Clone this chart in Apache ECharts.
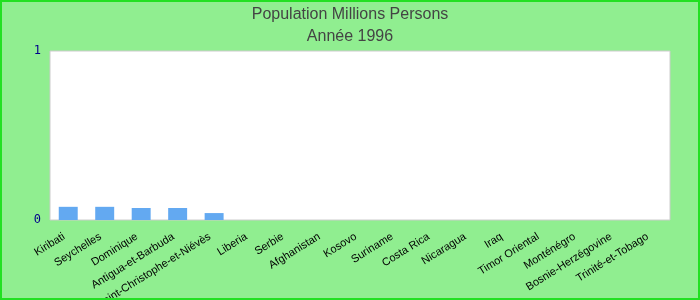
<!DOCTYPE html>
<html><head><meta charset="utf-8">
<script src="https://cdn.jsdelivr.net/npm/echarts@6/dist/echarts.min.js"></script>
<style>html,body{margin:0;padding:0;}#w{position:relative;width:700px;height:300px;}#c{width:700px;height:300px;}#b{position:absolute;left:0;top:0;width:700px;height:300px;box-sizing:border-box;border:2px solid #22e022;pointer-events:none;}</style>
</head><body><div id="w"><div id="c"></div><div id="b"></div></div>
<script>
const categories = ["Kiribati","Seychelles","Dominique","Antigua-et-Barbuda","Saint-Christophe-et-Niévès","Liberia","Serbie","Afghanistan","Kosovo","Suriname","Costa Rica","Nicaragua","Iraq","Timor Oriental","Monténégro","Bosnie-Herzégovine","Trinité-et-Tobago"];
const values = [0.078,0.078,0.071,0.071,0.041,null,null,null,null,null,null,null,null,null,null,null,null];
const titleText = "Population Millions Persons";
const subtitleText = "Année 1996";

const chart = echarts.init(document.getElementById('c'));
chart.setOption({
  backgroundColor: '#90ee90',
  animation: false,
  title: {
    text: titleText, subtext: subtitleText, left: 'center', top: 2, itemGap: 6,
    textStyle: {fontFamily: 'Liberation Sans', fontSize: 16, fontWeight: 'normal', color: '#444'},
    subtextStyle: {fontFamily: 'Liberation Sans', fontSize: 16, color: '#444'}
  },
  grid: {left: 50, right: 30, top: 51, bottom: 80, show: true, backgroundColor: '#fff', borderColor: '#ccc', borderWidth: 1, containLabel: false, outerBoundsMode: 'none'},
  xAxis: {
    type: 'category', data: categories,
    axisLine: {show: false}, axisTick: {show: false},
    axisLabel: {interval: 0, rotate: 32, fontFamily: 'Liberation Sans', fontSize: 11, color: '#000', margin: 13, padding: [0, 5, 0, 0]}
  },
  yAxis: {
    type: 'value', min: 0, max: 1, interval: 1,
    splitLine: {show: false}, axisLine: {show: false}, axisTick: {show: false},
    axisLabel: {fontFamily: 'DejaVu Sans Mono', fontSize: 12, color: '#00008b', margin: 9, padding: [4, 0, 0, 0]}
  },
  series: [{type: 'bar', data: values, barWidth: '52%', itemStyle: {color: '#63a9f1'}}]
});
</script>
</body></html>
